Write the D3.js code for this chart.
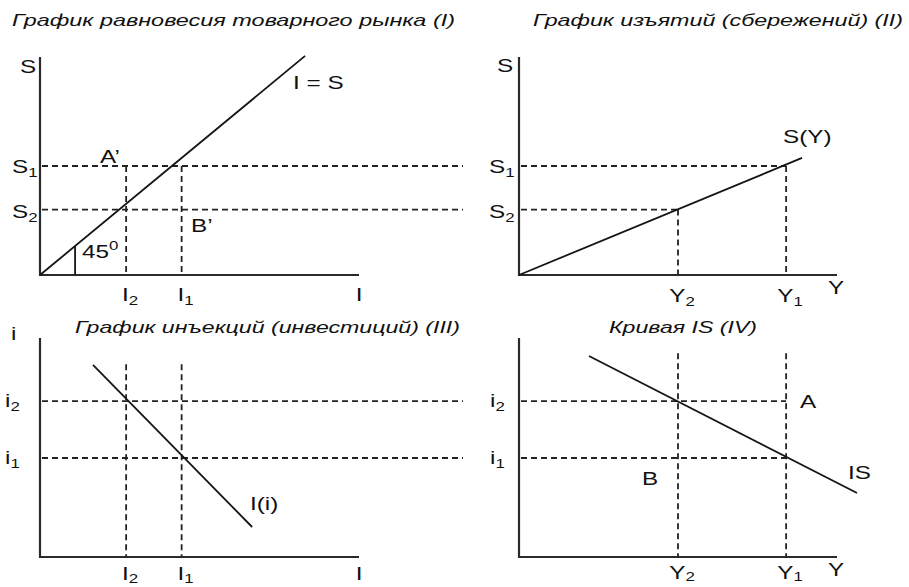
<!DOCTYPE html>
<html>
<head>
<meta charset="utf-8">
<script src="https://cdn.jsdelivr.net/npm/d3@7"></script>
<style>
  html, body { margin: 0; padding: 0; background: #fff; }
  svg { display: block; }
  text { font-family: "Liberation Sans", Arial, sans-serif; fill: #111; }
  .title { font-style: italic; font-size: 17px; }
  .lbl { font-size: 18px; }
</style>
</head>
<body>
<svg id="chart" width="909" height="587"></svg>
<script>
// Levels shared between the four quadrants (abstract units 0..100)
const savingsLevels = [50, 30];     // S1, S2
const investLevels = [44.4, 27];    // I1, I2
const incomeLevels = [84, 50];      // Y1, Y2
const rateLevels = [45.2, 71.2];    // i1, i2

// Curves
const equalityLine = [[0, 0], [83.1, 100.5]];        // I = S
const savingsLine = [[0, 0], [89, 53.7]];            // S(Y)
const investmentLine = [[16.6, 87.7], [66.5, 13.7]]; // I(i)
const isLine = [[22, 91.8], [106.3, 29.2]];          // IS

const titles = [
  "График равновесия товарного рынка (I)",
  "График изъятий (сбережений) (II)",
  "График инъекций (инвестиций) (III)",
  "Кривая IS (IV)"
];

const svg = d3.select("#chart");

// Horizontal scales: investment (left column), income (right column)
const xI = d3.scaleLinear([0, 100], [40, 359]);
const xY = d3.scaleLinear([0, 100], [519, 837]);
// Vertical scales: savings (top row), interest rate (bottom row)
const yS = d3.scaleLinear([0, 100], [275, 57]);
const yR = d3.scaleLinear([0, 100], [557, 338]);

const ink = "#151515";
const dashStyle = "6,4";
const stretch = 1.35; // labels are set in a wide sans

function axes(x, y) {
  const [x0, x1] = x.range();
  const [y0, y1] = y.range();
  svg.append("path")
    .attr("d", `M${x0},${y1}V${y0}H${x1}`)
    .attr("fill", "none").attr("stroke", "#2a2a2a").attr("stroke-width", 2.2);
}

function curve(data, x, y) {
  svg.append("path")
    .attr("d", d3.line().x(d => x(d[0])).y(d => y(d[1]))(data))
    .attr("fill", "none").attr("stroke", ink).attr("stroke-width", 1.8);
}

function dashH(y, xa, xb) {
  svg.append("line").attr("x1", xa).attr("x2", xb).attr("y1", y).attr("y2", y)
    .attr("stroke", "#222").attr("stroke-width", 1.8).attr("stroke-dasharray", dashStyle);
}
function dashV(x, ya, yb) {
  svg.append("line").attr("x1", x).attr("x2", x).attr("y1", ya).attr("y2", yb)
    .attr("stroke", "#222").attr("stroke-width", 1.8).attr("stroke-dasharray", dashStyle);
}

// Text label with optional subscript / superscript
function label(x, y, main, opts = {}) {
  const t = svg.append("text").attr("class", "lbl")
    .attr("transform", `translate(${x},${y}) scale(${stretch},1)`)
    .attr("text-anchor", opts.anchor || "start");
  t.append("tspan").text(main);
  if (opts.sub) t.append("tspan").attr("font-size", 12.5).attr("dy", opts.subDy || 4).text(opts.sub);
  if (opts.sup) t.append("tspan").attr("font-size", 12.5).attr("dy", -8).text(opts.sup);
  return t;
}

function title(x, y, str, width) {
  svg.append("text").attr("class", "title")
    .attr("x", x).attr("y", y)
    .attr("textLength", width).attr("lengthAdjust", "spacingAndGlyphs")
    .text(str);
}

// ---------- Titles ----------
title(12, 26, titles[0], 443);
title(533, 26, titles[1], 370);
title(75, 333, titles[2], 385);
title(609, 333, titles[3], 148);

// ---------- Dashed guide lines ----------
const [S1, S2] = savingsLevels;
const [I1, I2] = investLevels;
const [Y1, Y2] = incomeLevels;
const [r1, r2] = rateLevels;

// Quadrant I
dashH(yS(S1), xI(0) + 2, 463);
dashH(yS(S2), xI(0) + 2, 463);
dashV(xI(I2), yS(S1), yS(0));
dashV(xI(I1), yS(S1), yS(0));
// Quadrant II
dashH(yS(S1), xY(0) + 2, xY(Y1));
dashH(yS(S2), xY(0) + 2, xY(Y2));
dashV(xY(Y1), yS(S1), yS(0));
dashV(xY(Y2), yS(S2), yS(0));
// Quadrant III
dashH(yR(r2), xI(0) + 2, 463);
dashH(yR(r1), xI(0) + 2, 463);
dashV(xI(I2), yR(88), yR(0));
dashV(xI(I1), yR(88), yR(0));
// Quadrant IV
dashH(yR(r2), xY(0) + 2, xY(Y1));
dashH(yR(r1), xY(0) + 2, xY(Y1));
dashV(xY(Y2), yR(93), yR(0));
dashV(xY(Y1), yR(93), yR(0));

// ---------- Axes ----------
axes(xI, yS);
axes(xY, yS);
axes(xI, yR);
axes(xY, yR);

// ---------- Curves ----------
curve(equalityLine, xI, yS);
curve(savingsLine, xY, yS);
curve(investmentLine, xI, yR);
curve(isLine, xY, yR);

// 45° angle marker
const mk = 11;
const slope = equalityLine[1][1] / equalityLine[1][0];
svg.append("line")
  .attr("x1", xI(mk)).attr("x2", xI(mk))
  .attr("y1", yS(0)).attr("y2", yS(mk * slope))
  .attr("stroke", ink).attr("stroke-width", 1.8);

// ---------- Labels: quadrant I ----------
label(20, 73, "S");
label(12, yS(S1) + 7, "S", { sub: "1" });
label(12, yS(S2) + 8, "S", { sub: "2" });
label(100, yS(S1) - 3, "A’");
label(191, 232, "B’");
label(82, 258, "45", { sup: "0" });
label(293, 89, "I = S");
label(xI(I2) + 4, 301, "I", { sub: "2", anchor: "middle" });
label(xI(I1) + 4, 301, "I", { sub: "1", anchor: "middle" });
label(xI(100), 301, "I", { anchor: "middle" });

// ---------- Labels: quadrant II ----------
label(497, 72, "S");
label(489, yS(S1) + 7, "S", { sub: "1" });
label(489, yS(S2) + 8, "S", { sub: "2" });
label(783, 143, "S(Y)");
label(836, 294, "Y", { anchor: "middle" });
label(xY(Y2) + 4, 302, "Y", { sub: "2", anchor: "middle" });
label(xY(Y1) + 4, 302, "Y", { sub: "1", anchor: "middle" });

// ---------- Labels: quadrant III ----------
label(11, 340, "i");
label(5, yR(r2) + 6, "i", { sub: "2" });
label(5, yR(r1) + 6, "i", { sub: "1" });
label(250, 510, "I(i)");
label(xI(I2) + 4, 580, "I", { sub: "2", subDy: 3, anchor: "middle" });
label(xI(I1) + 4, 580, "I", { sub: "1", subDy: 3, anchor: "middle" });
label(xI(100), 580, "I", { anchor: "middle" });

// ---------- Labels: quadrant IV ----------
label(490, yR(r2) + 6, "i", { sub: "2" });
label(490, yR(r1) + 6, "i", { sub: "1" });
label(800, yR(r2) + 7, "A");
label(642, 485, "B");
label(848, 479, "IS");
label(836, 576, "Y", { anchor: "middle" });
label(xY(Y2) + 4, 579, "Y", { sub: "2", subDy: 2, anchor: "middle" });
label(xY(Y1) + 4, 579, "Y", { sub: "1", subDy: 2, anchor: "middle" });
</script>
</body>
</html>
